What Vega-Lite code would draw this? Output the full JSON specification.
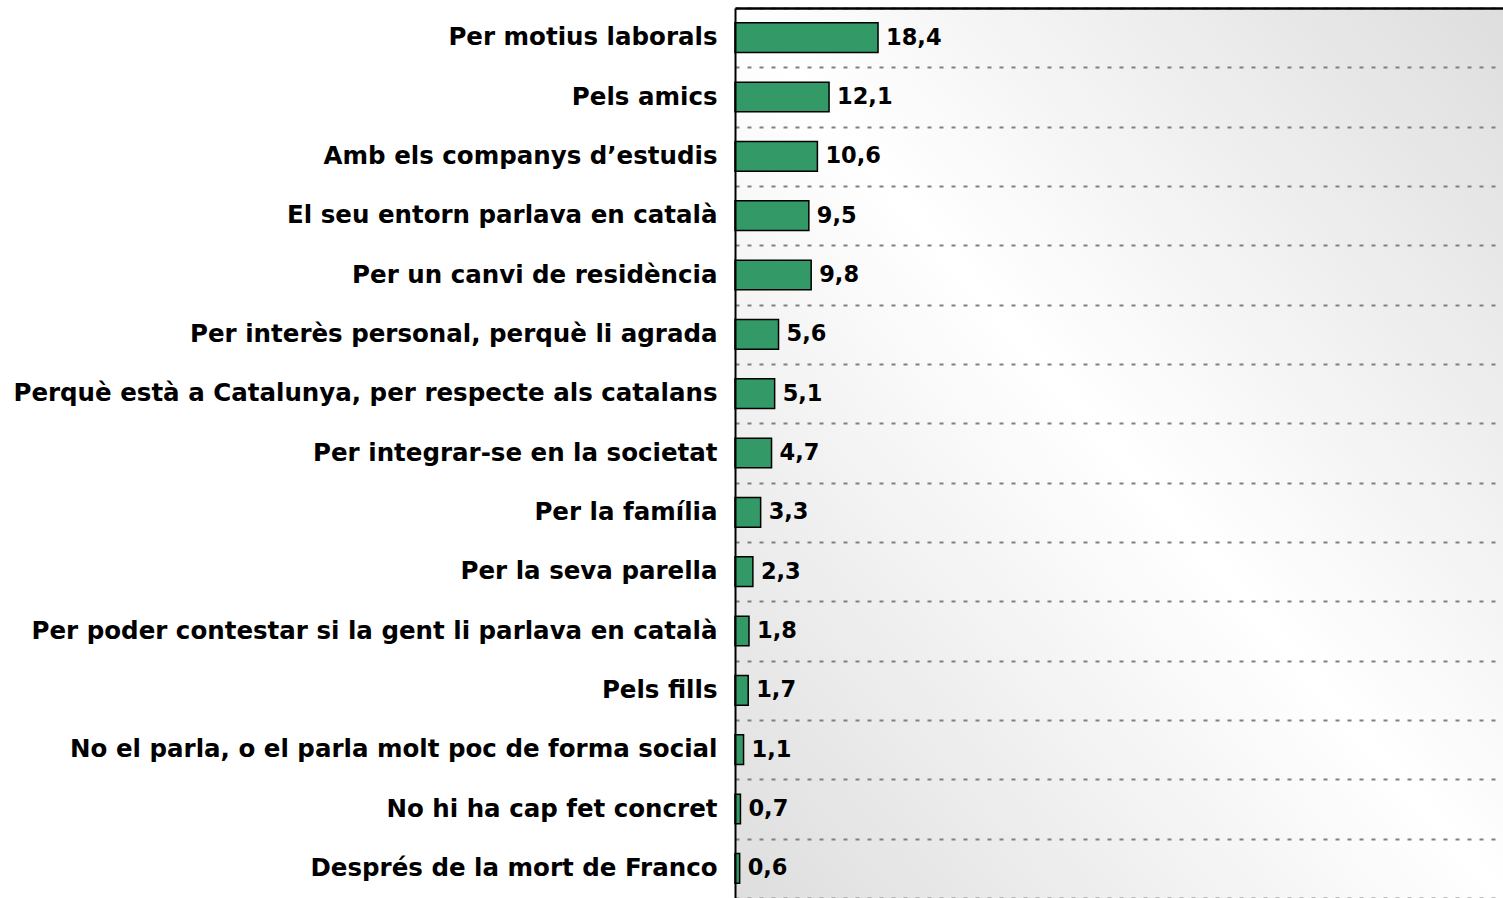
{
  "$schema": "https://vega.github.io/schema/vega-lite/v6.json",
  "width": 768,
  "height": 890,
  "autosize": {"type": "none"},
  "padding": {"left": 735, "top": 8, "right": 0, "bottom": 0},
  "background": "white",
  "config": {
    "view": {"stroke": null},
    "locale": {"number": {"decimal": ",", "thousands": ".", "grouping": [3], "currency": ["", " €"]}}
  },
  "data": {
    "values": [
      {"motiu": "Per motius laborals", "pct": 18.4},
      {"motiu": "Pels amics", "pct": 12.1},
      {"motiu": "Amb els companys d’estudis", "pct": 10.6},
      {"motiu": "El seu entorn parlava en català", "pct": 9.5},
      {"motiu": "Per un canvi de residència", "pct": 9.8},
      {"motiu": "Per interès personal, perquè li agrada", "pct": 5.6},
      {"motiu": "Perquè està a Catalunya, per respecte als catalans", "pct": 5.1},
      {"motiu": "Per integrar-se en la societat", "pct": 4.7},
      {"motiu": "Per la família", "pct": 3.3},
      {"motiu": "Per la seva parella", "pct": 2.3},
      {"motiu": "Per poder contestar si la gent li parlava en català", "pct": 1.8},
      {"motiu": "Pels fills", "pct": 1.7},
      {"motiu": "No el parla, o el parla molt poc de forma social", "pct": 1.1},
      {"motiu": "No hi ha cap fet concret", "pct": 0.7},
      {"motiu": "Després de la mort de Franco", "pct": 0.6}
    ]
  },
  "layer": [
    {
      "data": {"values": [{"lo": 0, "hi": 98.8}]},
      "mark": {
        "type": "rect",
        "color": {
          "gradient": "linear",
          "x1": 0, "y1": 1, "x2": 1, "y2": 0,
          "stops": [
            {"offset": 0, "color": "#dedede"},
            {"offset": 0.5, "color": "#ffffff"},
            {"offset": 1, "color": "#dedede"}
          ]
        }
      },
      "encoding": {
        "x": {
          "field": "lo", "type": "quantitative",
          "scale": {"domain": [0, 98.8], "nice": false, "zero": true},
          "axis": {
            "orient": "top", "title": null, "labels": false, "ticks": false, "grid": false,
            "domain": true, "domainColor": "black", "domainWidth": 2.5, "zindex": 2
          }
        },
        "x2": {"field": "hi"}
      }
    },
    {
      "mark": {"type": "bar", "color": "#339966", "stroke": "black", "strokeWidth": 1.5, "height": {"band": 0.5}},
      "encoding": {
        "y": {
          "field": "motiu", "type": "nominal", "sort": null,
          "scale": {"paddingInner": 0, "paddingOuter": 0},
          "axis": {
            "title": null, "orient": "left", "zindex": 1,
            "domain": true, "domainColor": "black", "domainWidth": 2,
            "ticks": false, "tickBand": "extent",
            "labelFont": "DejaVu Sans", "labelFontWeight": "bold", "labelFontSize": 24.5,
            "labelColor": "black", "labelPadding": 18, "labelLimit": 0,
            "grid": true, "gridColor": "#808080", "gridDash": [4, 8], "gridWidth": 2
          }
        },
        "x": {
          "field": "pct", "type": "quantitative",
          "scale": {"domain": [0, 98.8], "nice": false, "zero": true},
          "axis": {
            "orient": "top", "title": null, "labels": false, "ticks": false, "grid": false,
            "domain": true, "domainColor": "black", "domainWidth": 2.5, "zindex": 2
          }
        }
      }
    },
    {
      "mark": {"type": "text", "align": "left", "baseline": "middle", "dx": 8, "font": "DejaVu Sans", "fontWeight": "bold", "fontSize": 22.5, "color": "black"},
      "encoding": {
        "y": {"field": "motiu", "type": "nominal", "sort": null},
        "x": {"field": "pct", "type": "quantitative"},
        "text": {"field": "pct", "type": "quantitative", "format": ".1f"}
      }
    }
  ]
}
